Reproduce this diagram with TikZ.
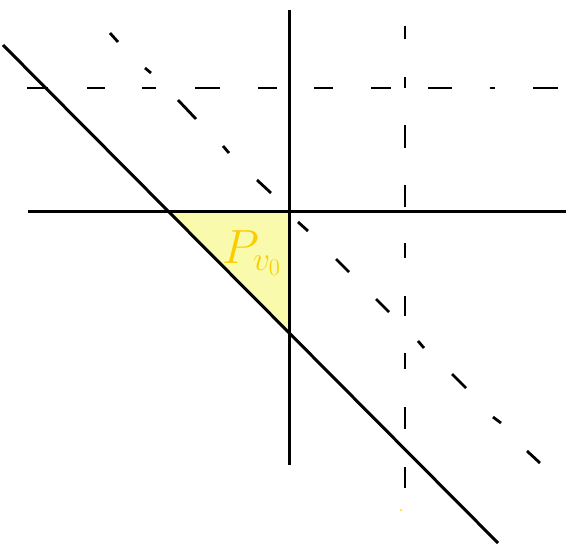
\RequirePackage{fix-cm}
\documentclass[tikz,border=0pt]{standalone}
\begin{document}
\begin{tikzpicture}[x=0.75pt,y=-0.75pt,
  solidline/.style={line width=2.25pt,black},
  dashseg/.style={line width=2.1pt,black},
  region/.style={fill={rgb,255:red,249;green,250;blue,172}},
  penyellow/.style={text={rgb,255:red,250;green,205;blue,0}}]
\useasboundingbox (0,0) rectangle (567,546);
% shaded triangle
\fill[region] (168,211) -- (291,211) -- (291,335) -- cycle;
% solid lines
\coordinate (h1) at (28,211);  \coordinate (h2) at (566,211);
\coordinate (v1) at (289,10);  \coordinate (v2) at (289,465);
\coordinate (d1) at (3,45);    \coordinate (d2) at (498,543);
\draw[solidline] (h1) -- (h2);
\draw[solidline] (v1) -- (v2);
\draw[solidline] (d1) -- (d2);
% dashed horizontal
\foreach \a/\b in {27/48,87/105,142/156,195/220,258/277,314/333,371/391,428/452,490/495,533/558}
  \draw[dashseg] (\a,88) -- (\b,88);
% dashed vertical
\foreach \a/\b in {26/39,77/88,125/148,185/207,243/258,296/316,353/369,407/429,467/488}
  \draw[dashseg] (405,\a) -- (405,\b);
% dashed diagonal
\foreach \xa/\ya/\xb/\yb in {110/33/118/42,145/68/151/73,178/100/196/119,223/146/229/153,257/180/271/193,298/222/308/231,336/259/349/272,376/299/389/312,418/341/424/348,452/374/466/388,493/417/501/423,527/451/540/463}
  \draw[dashseg] (\xa,\ya) -- (\xb,\yb);
% label
\node[penyellow,font=\fontsize{36}{36}\selectfont,inner sep=0pt] (lbl) at (252,253) {$P_{v_0}$};
\fill[fill={rgb,255:red,250;green,205;blue,0}] (401,510) circle (1);
\end{tikzpicture}
\end{document}
